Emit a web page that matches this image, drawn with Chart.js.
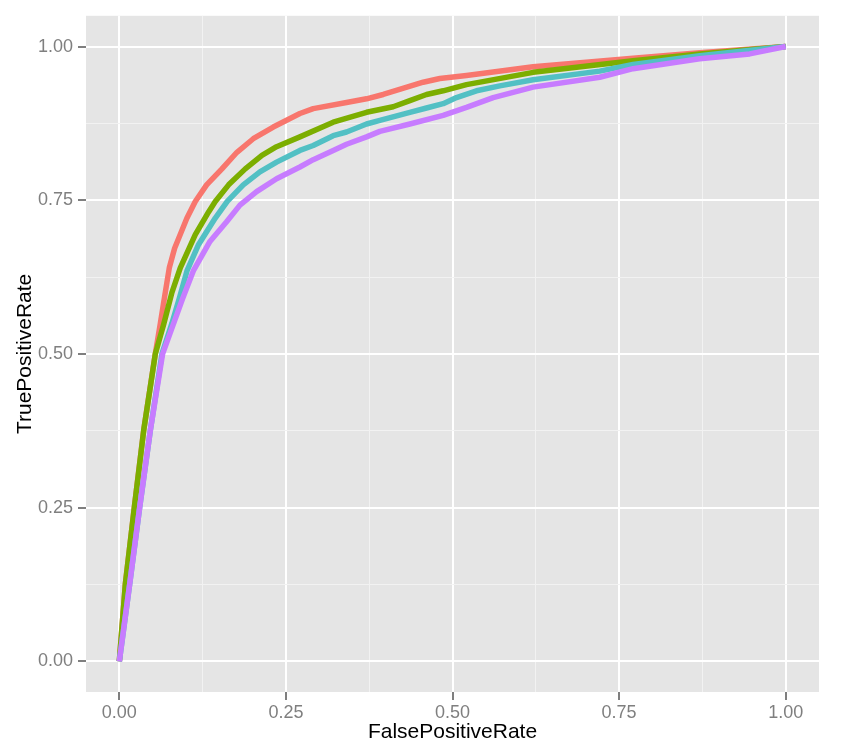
<!DOCTYPE html>
<html>
<head>
<meta charset="utf-8">
<script src="https://cdn.jsdelivr.net/npm/chart.js@4.4.1/dist/chart.umd.min.js"></script>
<style>
  html, body { margin: 0; padding: 0; background: #ffffff; }
  canvas { display: block; }
</style>
</head>
<body>
<canvas id="rocChart" width="842" height="752"></canvas>
<script>
// grid / tick positions (both axes)
const gridValues = [0, 0.125, 0.25, 0.375, 0.5, 0.625, 0.75, 0.875, 1];

// ROC curves
const redFpr = [0, 0.009, 0.0225, 0.0365, 0.054, 0.0615, 0.069, 0.075, 0.083, 0.1015, 0.114, 0.131, 0.154, 0.1765, 0.201, 0.231, 0.271, 0.291, 0.341, 0.371, 0.396, 0.456, 0.481, 0.521, 0.621, 0.771, 0.871, 1];
const redTpr = [0, 0.125, 0.25, 0.375, 0.5, 0.549, 0.6, 0.64, 0.672, 0.721, 0.748, 0.775, 0.801, 0.828, 0.85, 0.869, 0.891, 0.899, 0.909, 0.915, 0.922, 0.942, 0.948, 0.953, 0.967, 0.981, 0.99, 1];

const greenFpr = [0, 0.009, 0.0225, 0.0365, 0.054, 0.0665, 0.079, 0.0915, 0.114, 0.134, 0.144, 0.164, 0.189, 0.214, 0.236, 0.271, 0.321, 0.371, 0.411, 0.436, 0.461, 0.486, 0.521, 0.621, 0.771, 0.871, 1];
const greenTpr = [0, 0.125, 0.25, 0.375, 0.5, 0.548, 0.6, 0.64, 0.694, 0.731, 0.748, 0.775, 0.801, 0.823, 0.837, 0.853, 0.877, 0.893, 0.902, 0.912, 0.922, 0.928, 0.938, 0.958, 0.977, 0.988, 1];

const cyanFpr = [0, 0.0155, 0.0305, 0.0465, 0.064, 0.079, 0.0905, 0.1015, 0.119, 0.144, 0.162, 0.186, 0.211, 0.236, 0.271, 0.291, 0.321, 0.341, 0.371, 0.391, 0.436, 0.461, 0.486, 0.506, 0.536, 0.571, 0.621, 0.721, 0.771, 0.871, 1];
const cyanTpr = [0, 0.125, 0.25, 0.375, 0.5, 0.55, 0.592, 0.635, 0.678, 0.721, 0.748, 0.775, 0.796, 0.812, 0.831, 0.839, 0.855, 0.861, 0.874, 0.88, 0.893, 0.9, 0.907, 0.917, 0.928, 0.936, 0.946, 0.96, 0.971, 0.985, 1];

const purpleFpr = [0, 0.0155, 0.0305, 0.0465, 0.065, 0.081, 0.095, 0.111, 0.136, 0.161, 0.181, 0.206, 0.236, 0.271, 0.291, 0.321, 0.341, 0.371, 0.391, 0.436, 0.486, 0.521, 0.561, 0.621, 0.721, 0.771, 0.871, 0.946, 1];
const purpleTpr = [0, 0.125, 0.25, 0.375, 0.5, 0.548, 0.59, 0.635, 0.683, 0.715, 0.742, 0.764, 0.785, 0.804, 0.816, 0.831, 0.841, 0.853, 0.862, 0.874, 0.888, 0.901, 0.917, 0.934, 0.95, 0.964, 0.98, 0.988, 1];

const FONT = "'Liberation Sans', Arial, sans-serif";

function toPoints(xs, ys) {
  return xs.map((x, i) => ({ x: x, y: ys[i] }));
}

function isMajor(v) {
  return Math.abs(v * 4 - Math.round(v * 4)) < 1e-9;
}

// grey ggplot panel behind the grid
const panelBackground = {
  id: "panelBackground",
  beforeDraw(chart) {
    const { ctx, chartArea } = chart;
    ctx.save();
    ctx.fillStyle = "#e5e5e5";
    ctx.fillRect(chartArea.left, chartArea.top, chartArea.width, chartArea.height);
    ctx.restore();
  },
};

function axisOptions(titleText, titlePadding) {
  return {
    type: "linear",
    min: -0.05,
    max: 1.05,
    afterBuildTicks: (axis) => {
      axis.ticks = gridValues.map((v) => ({ value: v }));
    },
    border: { display: false },
    grid: {
      color: (c) => (c.tick && isMajor(c.tick.value) ? "#ffffff" : "#f2f2f2"),
      lineWidth: (c) => (c.tick && isMajor(c.tick.value) ? 2 : 1),
      tickColor: (c) => (c.tick && isMajor(c.tick.value) ? "#7f7f7f" : "rgba(0,0,0,0)"),
      tickWidth: 2,
      tickLength: 8,
    },
    ticks: {
      autoSkip: false,
      maxRotation: 0,
      color: "#7f7f7f",
      font: { family: FONT, size: 18 },
      callback: (v) => (isMajor(v) ? v.toFixed(2) : ""),
    },
    title: {
      display: true,
      text: titleText,
      color: "#000000",
      font: { family: FONT, size: 21 },
      padding: titlePadding,
    },
  };
}

const xAxis = axisOptions("FalsePositiveRate", { top: 0, bottom: 7 });
xAxis.ticks.padding = 2;
xAxis.afterFit = (axis) => { axis.height = 60; };

const yAxis = axisOptions("TruePositiveRate", { top: 13, bottom: 0 });
yAxis.ticks.padding = 5;
yAxis.afterFit = (axis) => { axis.width = 86; };

function series(label, xs, ys, colour, order) {
  return {
    label: label,
    data: toPoints(xs, ys),
    borderColor: colour,
    borderWidth: 5.5,
    pointRadius: 0,
    tension: 0,
    fill: false,
    borderJoinStyle: "round",
    order: order,
  };
}

new Chart(document.getElementById("rocChart"), {
  type: "line",
  data: {
    datasets: [
      series("red", redFpr, redTpr, "#F8766D", 4),
      series("green", greenFpr, greenTpr, "#7CAE00", 3),
      series("cyan", cyanFpr, cyanTpr, "#52C0C4", 2),
      series("purple", purpleFpr, purpleTpr, "#C77CFF", 1),
    ],
  },
  options: {
    responsive: false,
    devicePixelRatio: 1,
    animation: false,
    layout: { padding: { top: 14, right: 23, left: 0, bottom: 0 } },
    plugins: {
      legend: { display: false },
      tooltip: { enabled: false },
    },
    scales: {
      x: xAxis,
      y: yAxis,
    },
  },
  plugins: [panelBackground],
});
</script>
</body>
</html>
